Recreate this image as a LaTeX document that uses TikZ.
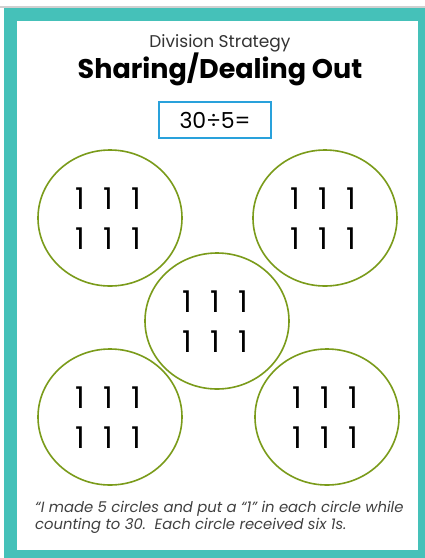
\documentclass[tikz,border=0pt]{standalone}
\usepackage{fontspec}
\setmainfont{Poppins}
\usepackage{tikz}
\usetikzlibrary{shapes.geometric,positioning,calc}
\definecolor{frameteal}{RGB}{69,193,185}
\definecolor{topgray}  {RGB}{208,208,208}
\definecolor{ringgreen}{RGB}{122,155,26}
\definecolor{boxblue}  {RGB}{41,161,219}
\definecolor{quotegray}{RGB}{64,64,64}
\tikzset{
  ring/.style    ={draw=ringgreen, line width=1.6pt, ellipse,
                   minimum width=144pt, minimum height=136pt, inner sep=0pt},
  onedigit/.style={anchor=base, inner sep=0pt, font=\fontsize{30}{30}\selectfont},
  eqbox/.style   ={draw=boxblue, line width=1.6pt, minimum width=112pt,
                   minimum height=36pt, inner sep=0pt,
                   font=\fontsize{22}{22}\selectfont},
  subtitle/.style={font=\fontsize{17}{17}\selectfont, text=black!80, inner sep=0pt},
  maintitle/.style={font=\fontsize{27}{27}\selectfont\bfseries, inner sep=0pt},
  quote/.style   ={font=\fontsize{14.8}{17}\selectfont\itshape, text=quotegray,
                   align=left, anchor=north west, inner sep=0pt},
}

\begin{document}
\begin{tikzpicture}[x=1pt,y=-1pt]
  \useasboundingbox (0,0) rectangle (425,558);
  %% frame
  \fill[topgray] (0,6) rectangle (425,8);
  \fill[frameteal] (4,8) rectangle (425,558);
  \fill[white] (17,21) rectangle (418,550);
  %% heading
  \node[subtitle, anchor=base] (strategy) at (220,47) {Division Strategy};
  \node[maintitle, anchor=base] (title) at (220,78) {Sharing/Dealing Out};
  \node[eqbox] (eq) at (215,120) {30÷5=};
  %% circles
  \node[ring] (tl) at (110,218) {};
  \node[ring] (tr) at (325,218) {};
  \node[ring] (mid) at (217,321) {};
  \node[ring] (bl) at (110,417) {};
  \node[ring] (br) at (327,417) {};
  \foreach \c in {tl,tr,mid,bl,br}
    \foreach \dx in {-30,-2,26}
      \foreach \dy in {-9,31}
        \node[onedigit] at ($(\c.center)+(\dx,\dy)$) {1};
  %% note
  \node[quote] (note) at (35,501) {“I made 5 circles and put a “1” in each circle while\\
    counting to 30.\ \ Each circle received six 1s.};
\end{tikzpicture}
\end{document}
